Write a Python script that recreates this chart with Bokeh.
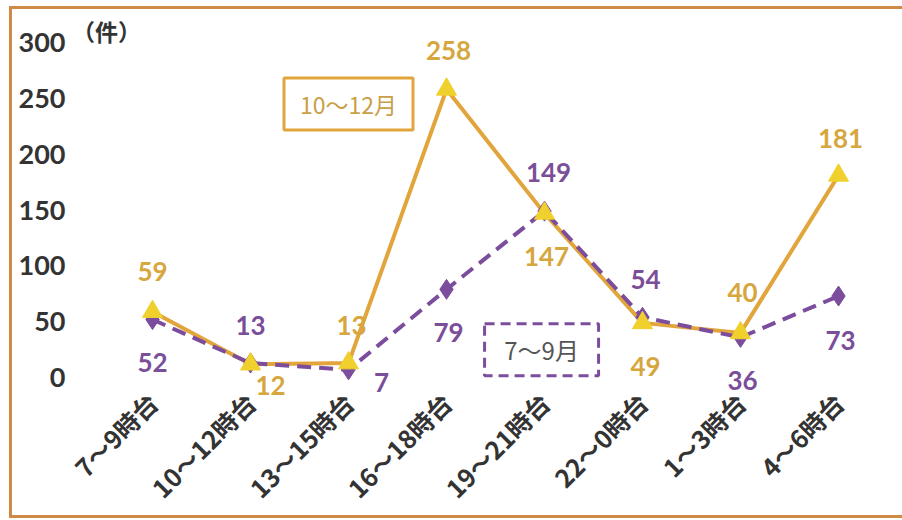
from bokeh.plotting import figure
from bokeh.models import ColumnDataSource, Label, Range1d, FixedTicker
from bokeh.core.properties import value
from bokeh.embed import file_html
from bokeh.resources import INLINE
import math

categories = ["7～9時台", "10～12時台", "13～15時台", "16～18時台",
              "19～21時台", "22～0時台", "1～3時台", "4～6時台"]
oct_dec = [59, 12, 13, 258, 147, 49, 40, 181]
jul_sep = [52, 13, 7, 79, 149, 54, 36, 73]
y_ticks = [0, 50, 100, 150, 200, 250, 300]

# label offsets in screen pixels (dx, dy; dy positive = down)
oct_dx = [0, 20, 3, 2, 2, 3, 2, 2]
oct_dy = [-40, 21, -38, -39, 43, 44, -40, -37]
jul_dx = [0, 0, 33, 2, 4, 3, 2, 2]
jul_dy = [43, -38, 13, 43, -39, -38, 43, 44]

ORANGE = "#e2a53c"
TRI = "#f0d02c"
ORANGE_TXT = "#d6a73e"
PURPLE = "#7b4d9c"
PURPLE_TXT = "#7a4e98"
DARK = "#333333"
EDGE = "#cf8a45"

idx = list(range(len(categories)))

p = figure(width=902, height=520, x_range=Range1d(-0.837, 7.5),
           y_range=Range1d(-16, 325), output_backend="svg", toolbar_location=None,
           min_border_left=70, min_border_right=15, min_border_top=14,
           min_border_bottom=124)
p.outline_line_color = None
p.border_fill_color = None
p.background_fill_color = None
p.xgrid.grid_line_color = None
p.ygrid.grid_line_color = None
g = f"linear-gradient({EDGE},{EDGE})"
p.styles = {"background": (f"{g} 9px 6px / 3px 512px no-repeat, "
                           f"{g} 9px 6px / 893px 3px no-repeat, "
                           f"{g} 9px 515px / 893px 3px no-repeat, white")}

for ax in (p.xaxis, p.yaxis):
    ax.axis_line_color = None
    ax.major_tick_line_color = None
    ax.minor_tick_line_color = None
    ax.major_tick_out = 0
    ax.major_label_text_color = DARK
    ax.major_label_text_font_style = "bold"

p.yaxis.ticker = FixedTicker(ticks=y_ticks)
p.yaxis.major_label_text_font = "Lato"
p.yaxis.major_label_text_font_size = "27px"
p.yaxis.major_label_standoff = 5

p.xaxis.ticker = FixedTicker(ticks=idx)
p.xaxis.major_label_overrides = {i: c for i, c in zip(idx, categories)}
p.xaxis.major_label_orientation = math.pi / 4
p.xaxis.major_label_text_font = "Noto Sans CJK JP"
p.xaxis.major_label_text_font_size = "25px"
p.xaxis.major_label_standoff = 2

src = ColumnDataSource(dict(x=idx, o=oct_dec, j=jul_sep,
                            ol=[str(v) for v in oct_dec], jl=[str(v) for v in jul_sep],
                            odx=oct_dx, ody=oct_dy, jdx=jul_dx, jdy=jul_dy))

p.line("x", "o", source=src, line_color=ORANGE, line_width=4)
p.line("x", "j", source=src, line_color=PURPLE, line_width=4, line_dash="14 8")
p.scatter("x", "j", source=src, marker="diamond", size=20, fill_color=PURPLE,
          line_color=PURPLE)
p.scatter("x", "o", source=src, marker="triangle", size=20, fill_color=TRI,
          line_color=TRI)

p.text("x", "o", text="ol", source=src, x_offset="odx", y_offset="ody",
       text_color=ORANGE_TXT, text_font=value("Lato"), text_font_style="bold",
       text_font_size="26px", text_align="center", text_baseline="middle")
p.text("x", "j", text="jl", source=src, x_offset="jdx", y_offset="jdy",
       text_color=PURPLE_TXT, text_font=value("Lato"), text_font_style="bold",
       text_font_size="26px", text_align="center", text_baseline="middle")

# legend boxes
p.rect(x=[2.0], y=[245], width=129, height=52, width_units="screen",
       height_units="screen", fill_color=None, line_color=ORANGE, line_width=3)
p.text(x=[2.0], y=[245], text=["10～12月"], text_color="#c9a046",
       text_font=value("Noto Sans CJK JP"), text_font_size="23px",
       text_align="center", text_baseline="middle")
p.rect(x=[3.97], y=[25], width=114, height=52, width_units="screen",
       height_units="screen", fill_color=None, line_color=PURPLE, line_width=3,
       line_dash="10 6")
p.text(x=[3.97], y=[25], text=["7～9月"], text_color="#555555",
       text_font=value("Noto Sans CJK JP"), text_font_size="24px",
       text_align="center", text_baseline="middle")

p.add_layout(Label(x=-0.47, y=310, text="（件）", text_color=DARK,
                   text_font="Noto Sans CJK JP", text_font_size="23px",
                   text_font_style="bold", text_align="center",
                   text_baseline="middle"))

open("out.html", "w").write(file_html(p, INLINE))
